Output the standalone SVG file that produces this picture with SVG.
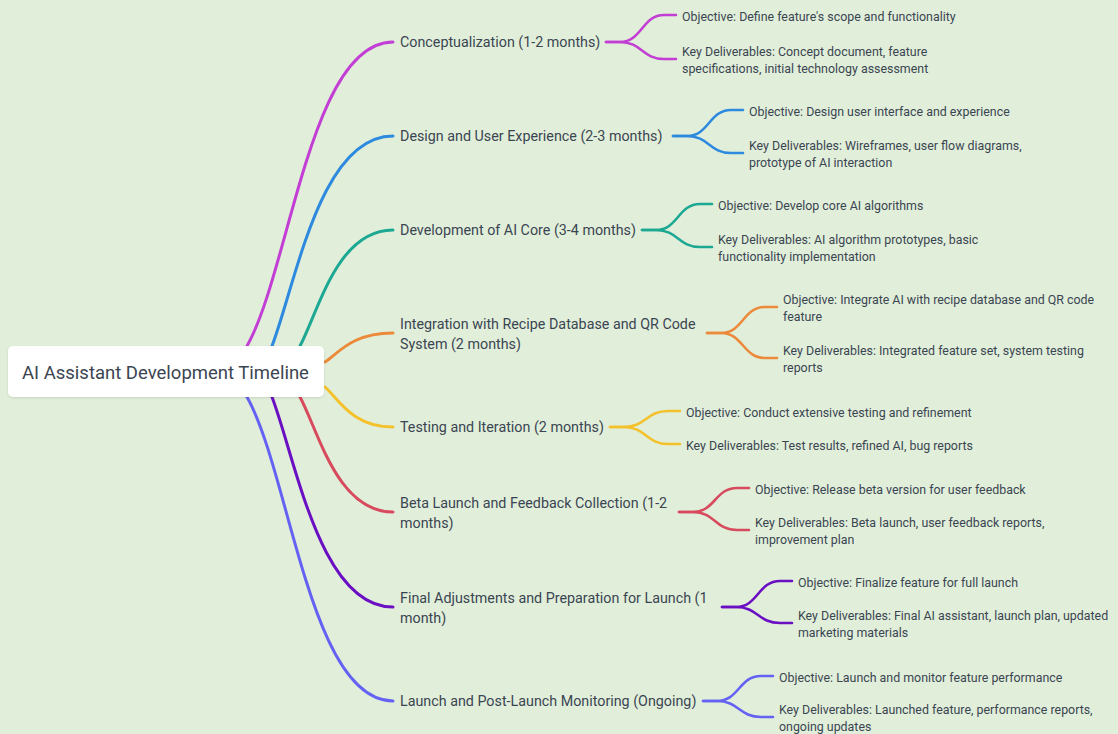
<svg xmlns="http://www.w3.org/2000/svg" width="1118" height="734" viewBox="0 0 1118 734">
<defs>
<style>
.bg{fill:#e1efda}
.br{fill:none;stroke-width:3;stroke-linecap:round}
.fk{fill:none;stroke-width:2.6;stroke-linecap:round}
.lb{font-family:Roboto,"Liberation Sans",sans-serif;font-size:14.3px;fill:#3b4552}
.ch{font-family:Roboto,"Liberation Sans",sans-serif;font-size:12.4px;fill:#3b4552}
.rt{font-family:Roboto,"Liberation Sans",sans-serif;font-size:18.5px;fill:#3b4552}
.c1{stroke:#c23ed4}.c2{stroke:#2e8ade}.c3{stroke:#1ca893}.c4{stroke:#ec8a3b}
.c5{stroke:#f4c12d}.c6{stroke:#d84a5d}.c7{stroke:#6b0fc3}.c8{stroke:#6562f3}
</style>
<filter id="sh" x="-5%" y="-20%" width="110%" height="150%">
<feDropShadow dx="0" dy="1" stdDeviation="1.2" flood-color="#000" flood-opacity="0.12"/>
</filter>
</defs>
<rect class="bg" x="0" y="0" width="1118" height="734"/>
<g id="connectors">
<path class="br c1" d="M247,346 C290,270 310,42 393,42"/>
<path class="br c2" d="M272,346 C296,283 320,136 393,136"/>
<path class="br c3" d="M300,346 C318.6,311 337,230 393,230"/>
<path class="br c4" d="M325,362 C338.6,353 352,333 393,333"/>
<path class="br c5" d="M325,387 C338.6,399 352,427 393,427"/>
<path class="br c6" d="M300,397 C318.6,431.5 337,512 393,512"/>
<path class="br c7" d="M272,397 C296,460 320,607 393,607"/>
<path class="br c8" d="M247,397 C290,473 310,701 393,701"/>
<path class="fk c1" d="M606,42 H620 C642,42 642,15 664,15 H676"/>
<path class="fk c1" d="M606,42 H620 C642,42 642,59 664,59 H676"/>
<path class="fk c2" d="M673,136 H687 C709,136 709,110 731,110 H743"/>
<path class="fk c2" d="M673,136 H687 C709,136 709,153 731,153 H743"/>
<path class="fk c3" d="M642,230 H656 C678,230 678,204 700,204 H712"/>
<path class="fk c3" d="M642,230 H656 C678,230 678,247 700,247 H712"/>
<path class="fk c4" d="M707,333 H721 C743,333 743,307 765,307 H777"/>
<path class="fk c4" d="M707,333 H721 C743,333 743,358 765,358 H777"/>
<path class="fk c5" d="M610,427 H624 C646,427 646,411 668,411 H680"/>
<path class="fk c5" d="M610,427 H624 C646,427 646,444 668,444 H680"/>
<path class="fk c6" d="M679,512 H693 C715,512 715,488 737,488 H749"/>
<path class="fk c6" d="M679,512 H693 C715,512 715,530 737,530 H749"/>
<path class="fk c7" d="M722,607 H736 C758,607 758,581 780,581 H792"/>
<path class="fk c7" d="M722,607 H736 C758,607 758,623 780,623 H792"/>
<path class="fk c8" d="M703,701 H717 C739,701 739,676 761,676 H773"/>
<path class="fk c8" d="M703,701 H717 C739,701 739,717 761,717 H773"/>
</g>
<g id="root">
<rect x="8" y="346" width="316" height="51" rx="5" fill="#ffffff" filter="url(#sh)"/>
<text class="rt" x="22" y="379">AI Assistant Development Timeline</text>
</g>
<g id="n1">
<text class="lb" x="400" y="47">Conceptualization (1-2 months)</text>
<text class="ch" x="682" y="21">Objective: Define feature's scope and functionality</text>
<text class="ch" x="682" y="56">Key Deliverables: Concept document, feature</text>
<text class="ch" x="682" y="73">specifications, initial technology assessment</text>
</g>
<g id="n2">
<text class="lb" x="400" y="141">Design and User Experience (2-3 months)</text>
<text class="ch" x="749" y="116">Objective: Design user interface and experience</text>
<text class="ch" x="749" y="150">Key Deliverables: Wireframes, user flow diagrams,</text>
<text class="ch" x="749" y="167">prototype of AI interaction</text>
</g>
<g id="n3">
<text class="lb" x="400" y="235">Development of AI Core (3-4 months)</text>
<text class="ch" x="718" y="210">Objective: Develop core AI algorithms</text>
<text class="ch" x="718" y="244">Key Deliverables: AI algorithm prototypes, basic</text>
<text class="ch" x="718" y="261">functionality implementation</text>
</g>
<g id="n4">
<text class="lb" x="400" y="329">Integration with Recipe Database and QR Code</text>
<text class="lb" x="400" y="349">System (2 months)</text>
<text class="ch" x="783" y="304">Objective: Integrate AI with recipe database and QR code</text>
<text class="ch" x="783" y="321">feature</text>
<text class="ch" x="783" y="355">Key Deliverables: Integrated feature set, system testing</text>
<text class="ch" x="783" y="372">reports</text>
</g>
<g id="n5">
<text class="lb" x="400" y="432">Testing and Iteration (2 months)</text>
<text class="ch" x="686" y="417">Objective: Conduct extensive testing and refinement</text>
<text class="ch" x="686" y="450">Key Deliverables: Test results, refined AI, bug reports</text>
</g>
<g id="n6">
<text class="lb" x="400" y="508">Beta Launch and Feedback Collection (1-2</text>
<text class="lb" x="400" y="528">months)</text>
<text class="ch" x="755" y="494">Objective: Release beta version for user feedback</text>
<text class="ch" x="755" y="527">Key Deliverables: Beta launch, user feedback reports,</text>
<text class="ch" x="755" y="544">improvement plan</text>
</g>
<g id="n7">
<text class="lb" x="400" y="603">Final Adjustments and Preparation for Launch (1</text>
<text class="lb" x="400" y="623">month)</text>
<text class="ch" x="798" y="587">Objective: Finalize feature for full launch</text>
<text class="ch" x="798" y="620">Key Deliverables: Final AI assistant, launch plan, updated</text>
<text class="ch" x="798" y="637">marketing materials</text>
</g>
<g id="n8">
<text class="lb" x="400" y="706">Launch and Post-Launch Monitoring (Ongoing)</text>
<text class="ch" x="779" y="682">Objective: Launch and monitor feature performance</text>
<text class="ch" x="779" y="714">Key Deliverables: Launched feature, performance reports,</text>
<text class="ch" x="779" y="731">ongoing updates</text>
</g>
</svg>
